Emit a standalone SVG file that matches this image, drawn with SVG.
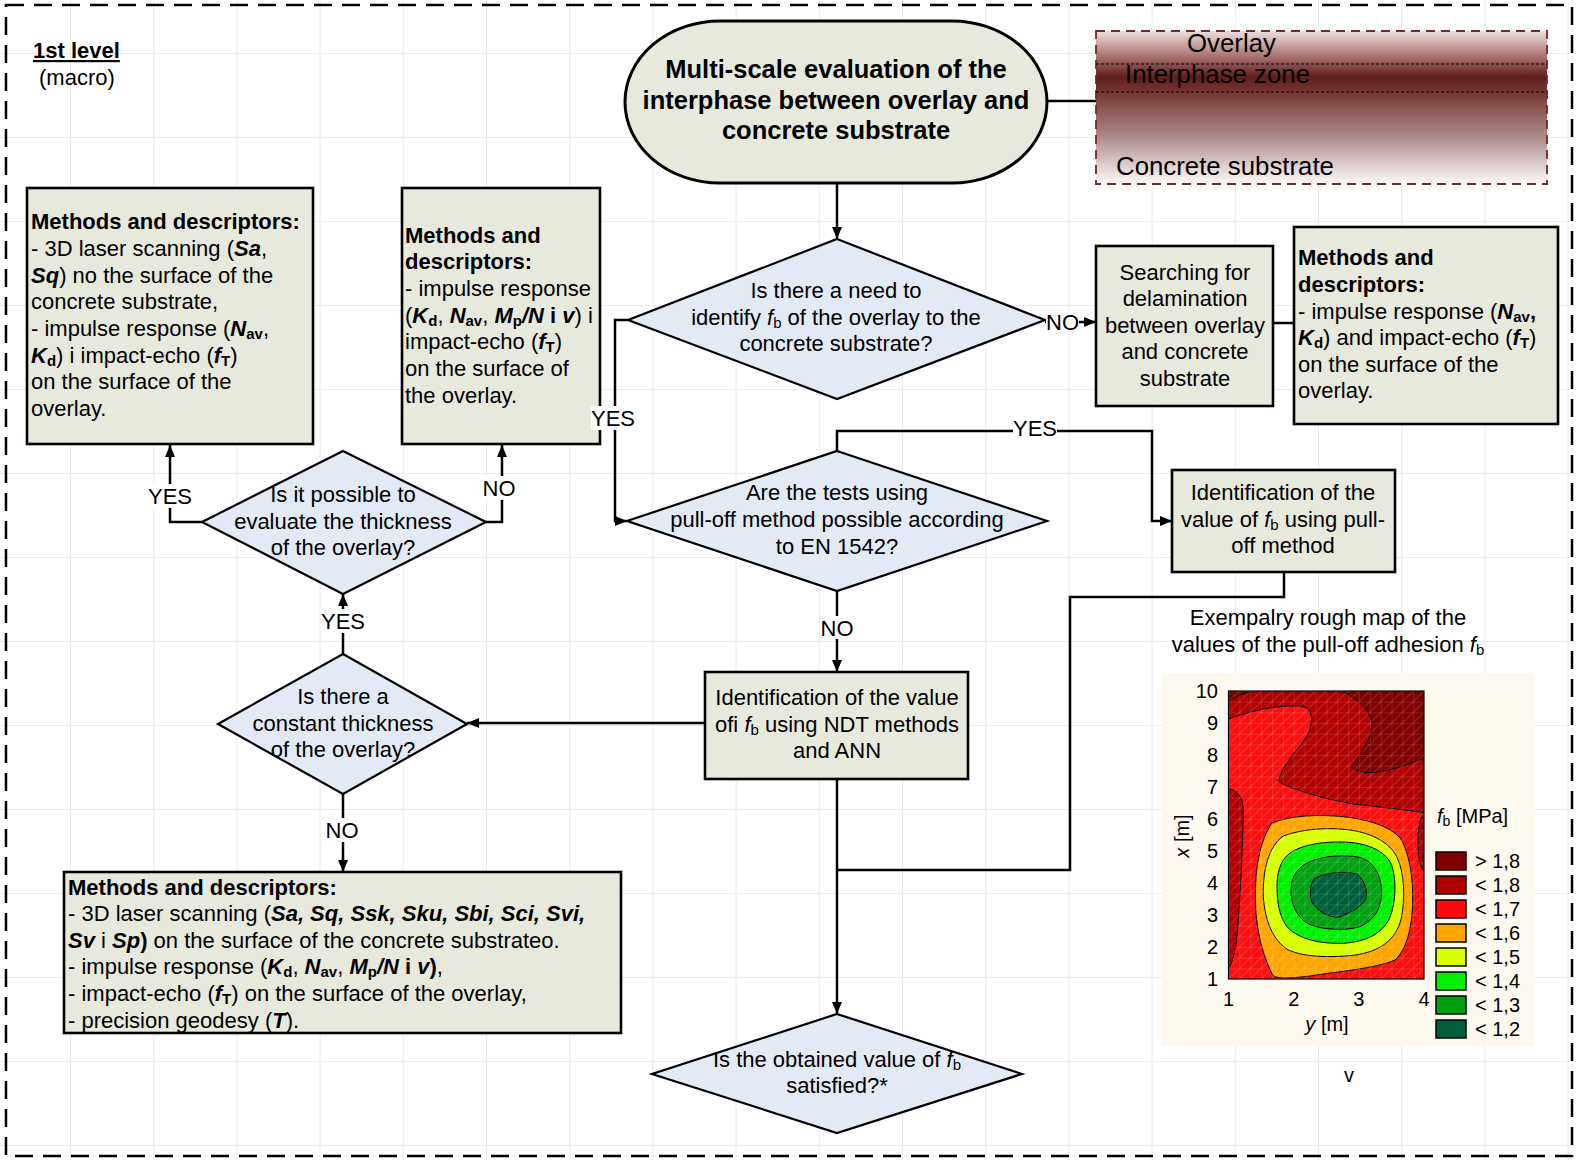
<svg xmlns="http://www.w3.org/2000/svg" width="1576" height="1160" viewBox="0 0 1576 1160">
<style>
text{font-family:"Liberation Sans",Arial,sans-serif;font-size:22px;fill:#000}
.c{text-anchor:middle}
.e{text-anchor:end}
.b{font-weight:bold}
.i{font-style:italic}
.bi{font-weight:bold;font-style:italic}
.sub{font-size:15px;baseline-shift:-3px}
.m{font-size:20px}
.ms{font-size:14px;baseline-shift:-3px}
.ov{font-size:25.8px}
.box{fill:#e8e9dd;stroke:#000;stroke-width:2.6}
.dia{fill:#e3e9f5;stroke:#000;stroke-width:2.2}
.ln{fill:none;stroke:#000;stroke-width:2.5}
.arr{marker-end:url(#ah)}
.bg{fill:#fff}
.ct{stroke:#000;stroke-width:3}
</style>
<defs>
<pattern id="grid" x="70" y="137" width="83.2" height="84" patternUnits="userSpaceOnUse">
<path d="M0,0V84M0,0H83.2" stroke="#ebebeb" stroke-width="2" fill="none"/>
</pattern>
<pattern id="hatch" x="1228.5" y="691" width="10.87" height="10.67" patternUnits="userSpaceOnUse">
<path d="M0,0V10.67M0,0H10.87M0,10.67L10.87,0" stroke="#fff" stroke-opacity="0.28" stroke-width="0.8" fill="none"/>
</pattern>
<linearGradient id="layers" x1="0" y1="0" x2="0" y2="1">
<stop offset="0" stop-color="#ecdede"/>
<stop offset="0.17" stop-color="#a8706c"/>
<stop offset="0.3" stop-color="#5f1e1a"/>
<stop offset="0.42" stop-color="#7a3c37"/>
<stop offset="0.68" stop-color="#aa8886"/>
<stop offset="1" stop-color="#fcf9f9"/>
</linearGradient>
<clipPath id="plotclip"><rect x="55" y="35" width="585" height="860"/></clipPath>
<marker id="ah" markerWidth="14" markerHeight="12" refX="12" refY="5" orient="auto" markerUnits="userSpaceOnUse">
<path d="M0,0L12,5L0,10Z" fill="#000"/>
</marker>
</defs>

<rect x="0" y="0" width="1576" height="1160" fill="#fff"/>
<rect x="0" y="0" width="1576" height="1160" fill="url(#grid)"/>
<rect x="6" y="5" width="1566" height="1151" fill="none" stroke="#000" stroke-width="2.5" stroke-dasharray="18 10"/>

<g id="level-label">
<text x="33" y="58" class="b" text-decoration="underline">1st level</text>
<text x="39" y="85">(macro)</text>
</g>

<g id="start">
<rect x="625" y="21" width="422" height="162" rx="95" ry="81" fill="#e8e9dd" stroke="#000" stroke-width="3"/>
<text class="c b" style="font-size:25.5px" x="836" y="78">Multi-scale evaluation of the</text>
<text class="c b" style="font-size:25.5px" x="836" y="109">interphase between overlay and</text>
<text class="c b" style="font-size:25.5px" x="836" y="139">concrete substrate</text>
</g>

<g id="layers-picture">
<rect x="1096" y="31" width="451" height="153" fill="url(#layers)" stroke="#6e2b2b" stroke-width="1.8" stroke-dasharray="9 6"/>
<path d="M1096,64H1547M1096,92H1547" stroke="#000" stroke-width="1" stroke-dasharray="3 2" fill="none"/>
<text x="1187" y="52" class="ov">Overlay</text>
<text x="1125" y="83" class="ov">Interphase zone</text>
<text x="1116" y="175" class="ov">Concrete substrate</text>
</g>

<g id="methods-left">
<rect class="box" x="27" y="188" width="286" height="256"/>
<text x="31" y="229" class="b">Methods and descriptors:</text>
<text x="31" y="256">- 3D laser scanning (<tspan class="bi">Sa</tspan>,</text>
<text x="31" y="283"><tspan class="bi">Sq</tspan>) no the surface of the</text>
<text x="31" y="309">concrete substrate,</text>
<text x="31" y="336">- impulse response (<tspan class="bi">N</tspan><tspan class="b sub">av</tspan>,</text>
<text x="31" y="363"><tspan class="bi">K</tspan><tspan class="b sub">d</tspan>) i impact-echo (<tspan class="bi">f</tspan><tspan class="b sub">T</tspan>)</text>
<text x="31" y="389">on the surface of the</text>
<text x="31" y="416">overlay.</text>
</g>

<g id="methods-middle">
<rect class="box" x="402" y="188" width="198" height="256"/>
<text x="405" y="243" class="b">Methods and</text>
<text x="405" y="269" class="b">descriptors:</text>
<text x="405" y="296">- impulse response</text>
<text x="405" y="323">(<tspan class="bi">K</tspan><tspan class="b sub">d</tspan>, <tspan class="bi">N</tspan><tspan class="b sub">av</tspan>, <tspan class="bi">M</tspan><tspan class="b sub">p</tspan><tspan class="bi">/N</tspan><tspan class="b"> i </tspan><tspan class="bi">v</tspan>) i</text>
<text x="405" y="349">impact-echo (<tspan class="bi">f</tspan><tspan class="b sub">T</tspan>)</text>
<text x="405" y="376">on the surface of</text>
<text x="405" y="403">the overlay.</text>
</g>

<g id="decision-need">
<polygon class="dia" points="837,239 1045,320 837,399 628,320"/>
<text class="c" x="836" y="298">Is there a need to</text>
<text class="c" x="836" y="325">identify <tspan class="i">f</tspan><tspan class="sub">b</tspan> of the overlay to the</text>
<text class="c" x="836" y="351">concrete substrate?</text>
</g>

<g id="searching">
<rect class="box" x="1096" y="246" width="177" height="160"/>
<text class="c" x="1185" y="280">Searching for</text>
<text class="c" x="1185" y="306">delamination</text>
<text class="c" x="1185" y="333">between overlay</text>
<text class="c" x="1185" y="359">and concrete</text>
<text class="c" x="1185" y="386">substrate</text>
</g>

<g id="methods-right">
<rect class="box" x="1294" y="227" width="264" height="197"/>
<text x="1298" y="265" class="b">Methods and</text>
<text x="1298" y="292" class="b">descriptors:</text>
<text x="1298" y="319">- impulse response (<tspan class="bi">N</tspan><tspan class="b sub">av</tspan><tspan class="b">,</tspan></text>
<text x="1298" y="345"><tspan class="bi">K</tspan><tspan class="b sub">d</tspan>) and impact-echo (<tspan class="bi">f</tspan><tspan class="b sub">T</tspan>)</text>
<text x="1298" y="372">on the surface of the</text>
<text x="1298" y="398">overlay.</text>
</g>

<g id="decision-pulloff">
<polygon class="dia" points="837,451 1047,521 837,591 627,521"/>
<text class="c" x="837" y="500">Are the tests using</text>
<text class="c" x="837" y="527">pull-off method possible according</text>
<text class="c" x="837" y="554">to EN 1542?</text>
</g>

<g id="pulloff-identification">
<rect class="box" x="1172" y="470" width="223" height="102"/>
<text class="c" x="1283" y="500">Identification of the</text>
<text class="c" x="1283" y="527">value of <tspan class="i">f</tspan><tspan class="sub">b</tspan> using pull-</text>
<text class="c" x="1283" y="553">off method</text>
</g>

<g id="decision-evaluate">
<polygon class="dia" points="343,451 486,522 343,594 202,522"/>
<text class="c" x="343" y="502">Is it possible to</text>
<text class="c" x="343" y="529">evaluate the thickness</text>
<text class="c" x="343" y="555">of the overlay?</text>
</g>

<g id="ndt-identification">
<rect class="box" x="705" y="672" width="263" height="107"/>
<text class="c" x="837" y="705">Identification of the value</text>
<text class="c" x="837" y="732">ofi <tspan class="i">f</tspan><tspan class="sub">b</tspan> using NDT methods</text>
<text class="c" x="837" y="758">and ANN</text>
</g>

<g id="decision-constant">
<polygon class="dia" points="343,654 467,724 343,794 218,724"/>
<text class="c" x="343" y="704">Is there a</text>
<text class="c" x="343" y="731">constant thickness</text>
<text class="c" x="343" y="757">of the overlay?</text>
</g>

<g id="methods-bottom">
<rect class="box" x="64" y="872" width="557" height="161"/>
<text x="68" y="895" class="b">Methods and descriptors:</text>
<text x="68" y="921">- 3D laser scanning (<tspan class="bi">Sa, Sq, Ssk, Sku, Sbi, Sci, Svi,</tspan></text>
<text x="68" y="948"><tspan class="bi">Sv</tspan> i <tspan class="bi">Sp</tspan><tspan class="b">)</tspan> on the surface of the concrete substrateo.</text>
<text x="68" y="974">- impulse response (<tspan class="bi">K</tspan><tspan class="b sub">d</tspan>, <tspan class="bi">N</tspan><tspan class="b sub">av</tspan>, <tspan class="bi">M</tspan><tspan class="b sub">p</tspan><tspan class="bi">/N</tspan><tspan class="b"> i </tspan><tspan class="bi">v</tspan><tspan class="b">)</tspan>,</text>
<text x="68" y="1001">- impact-echo (<tspan class="bi">f</tspan><tspan class="b sub">T</tspan>) on the surface of the overlay,</text>
<text x="68" y="1028">- precision geodesy (<tspan class="bi">T</tspan>).</text>
</g>

<g id="decision-satisfied">
<polygon class="dia" points="837,1014 1022,1074 837,1133 652,1074"/>
<text class="c" x="837" y="1067">Is the obtained value of <tspan class="i">f</tspan><tspan class="sub">b</tspan></text>
<text class="c" x="837" y="1093">satisfied?*</text>
</g>

<g id="map">
<text class="c" x="1328" y="625">Exempalry rough map of the</text>
<text class="c" x="1328" y="652">values of the pull-off adhesion <tspan class="i">f</tspan><tspan class="sub">b</tspan></text>
<rect x="1162" y="673" width="373" height="373" fill="#fdf9ee"/>
<rect x="1228.5" y="691" width="195.5" height="288" fill="#f81010"/>
<g transform="translate(1210,680) scale(0.33333)" clip-path="url(#plotclip)">
<path class="ct" fill="#b00000" d="M55,118 C100,100 180,75 270,78 C310,82 310,120 295,160 C270,210 220,240 205,305 C260,335 360,360 430,372 C520,382 590,390 640,398 L640,35 L55,35 Z"/>
<path class="ct" fill="#800000" d="M400,35 C450,60 490,100 485,140 C480,190 450,215 425,262 C460,290 530,280 640,235 L640,35 Z"/>
<path class="ct" fill="#800000" d="M55,65 C75,50 100,40 125,35 L55,35 Z"/>
<path class="ct" fill="#b00000" d="M55,325 C85,335 100,350 100,400 C98,500 92,620 85,720 C80,800 70,840 55,870 Z"/>
<path class="ct" fill="#b00000" d="M640,405 C625,420 622,470 625,520 C628,550 635,565 640,570 Z"/>
<path class="ct" fill="#ffa500" d="M185,430 C240,405 330,403 400,410 C480,420 545,440 575,480 C600,530 610,600 608,670 C606,740 590,810 555,840 C500,865 380,875 300,888 C240,895 200,898 188,885 C165,840 145,780 138,700 C132,600 140,500 185,430 Z"/>
<path class="ct" fill="#d6ff00" d="M220,468 C280,445 360,442 420,450 C490,460 540,490 560,530 C585,580 585,660 574,715 C558,780 510,815 430,826 C350,834 280,830 235,810 C190,782 165,725 160,650 C158,570 175,500 220,468 Z"/>
<path class="ct" fill="#00f000" d="M255,510 C300,488 370,482 430,488 C490,496 530,520 545,555 C560,600 558,665 540,712 C518,760 470,785 400,790 C330,792 270,778 235,745 C205,712 198,650 202,595 C208,550 225,525 255,510 Z"/>
<path class="ct" fill="#00a010" d="M300,545 C340,528 400,522 450,532 C490,545 512,580 515,630 C517,680 495,720 450,740 C410,752 350,752 300,734 C260,715 242,670 243,630 C245,585 265,560 300,545 Z"/>
<path class="ct" fill="#005e3a" d="M315,595 C345,578 400,572 440,582 C465,600 472,630 468,655 C455,680 420,700 385,712 C350,712 320,690 305,665 C298,640 300,610 315,595 Z"/>
</g>
<rect x="1228.5" y="691" width="195.5" height="288" fill="url(#hatch)"/>
<rect x="1228.5" y="691" width="195.5" height="288" fill="none" stroke="#000" stroke-width="1.2"/>
<text class="e m" x="1218" y="698">10</text>
<text class="e m" x="1218" y="730">9</text>
<text class="e m" x="1218" y="762">8</text>
<text class="e m" x="1218" y="794">7</text>
<text class="e m" x="1218" y="826">6</text>
<text class="e m" x="1218" y="858">5</text>
<text class="e m" x="1218" y="890">4</text>
<text class="e m" x="1218" y="922">3</text>
<text class="e m" x="1218" y="954">2</text>
<text class="e m" x="1218" y="986">1</text>
<text class="c m" x="1228.5" y="1006">1</text>
<text class="c m" x="1293.7" y="1006">2</text>
<text class="c m" x="1358.8" y="1006">3</text>
<text class="c m" x="1424" y="1006">4</text>
<text class="c m" x="1327" y="1031"><tspan class="i">y</tspan> [m]</text>
<text class="c m" transform="translate(1189,836) rotate(-90)"><tspan class="i">x</tspan> [m]</text>
<text class="m" x="1437" y="823"><tspan class="i">f</tspan><tspan class="ms">b</tspan> [MPa]</text>
<g stroke="#000" stroke-width="1.5">
<rect x="1436" y="852" width="30" height="18" fill="#800000"/>
<rect x="1436" y="876" width="30" height="18" fill="#b00000"/>
<rect x="1436" y="900" width="30" height="18" fill="#ff0a0a"/>
<rect x="1436" y="924" width="30" height="18" fill="#ffa500"/>
<rect x="1436" y="948" width="30" height="18" fill="#d6ff00"/>
<rect x="1436" y="972" width="30" height="18" fill="#00f000"/>
<rect x="1436" y="996" width="30" height="18" fill="#00a010"/>
<rect x="1436" y="1020" width="30" height="18" fill="#005e3a"/>
</g>
<text class="m" x="1475" y="868">&gt; 1,8</text>
<text class="m" x="1475" y="892">&lt; 1,8</text>
<text class="m" x="1475" y="916">&lt; 1,7</text>
<text class="m" x="1475" y="940">&lt; 1,6</text>
<text class="m" x="1475" y="964">&lt; 1,5</text>
<text class="m" x="1475" y="988">&lt; 1,4</text>
<text class="m" x="1475" y="1012">&lt; 1,3</text>
<text class="m" x="1475" y="1036">&lt; 1,2</text>
<text class="c m" x="1349" y="1082">v</text>
</g>

<g id="connectors">
<path class="ln arr" d="M837,183V239"/>
<path class="ln" d="M1047,101H1096"/>
<path class="ln arr" d="M1045,322H1096"/>
<path class="ln" d="M1273,323H1294"/>
<path class="ln arr" d="M628,320H615V521H627"/>
<path class="ln arr" d="M837,451V431H1152V521H1172"/>
<path class="ln arr" d="M837,591V672"/>
<path class="ln" d="M1284,572V597H1070V870H837"/>
<path class="ln arr" d="M705,723H467"/>
<path class="ln arr" d="M837,779V1014"/>
<path class="ln arr" d="M343,654V594"/>
<path class="ln arr" d="M202,522H170V445"/>
<path class="ln arr" d="M486,522H502V445"/>
<path class="ln arr" d="M343,794V872"/>
<rect class="bg" x="1046" y="312" width="33" height="22"/>
<text x="1062.5" y="330" class="c">NO</text>
<rect class="bg" x="591" y="406" width="44" height="24"/>
<text x="613" y="426" class="c">YES</text>
<rect class="bg" x="1013" y="417" width="44" height="23"/>
<text x="1035" y="436" class="c">YES</text>
<rect class="bg" x="820" y="616" width="34" height="23"/>
<text x="837" y="636" class="c">NO</text>
<rect class="bg" x="321" y="609" width="44" height="24"/>
<text x="343" y="629" class="c">YES</text>
<rect class="bg" x="148" y="484" width="44" height="24"/>
<text x="170" y="504" class="c">YES</text>
<rect class="bg" x="482" y="476" width="34" height="24"/>
<text x="499" y="496" class="c">NO</text>
<rect class="bg" x="325" y="818" width="34" height="24"/>
<text x="342" y="838" class="c">NO</text>
</g>
</svg>
